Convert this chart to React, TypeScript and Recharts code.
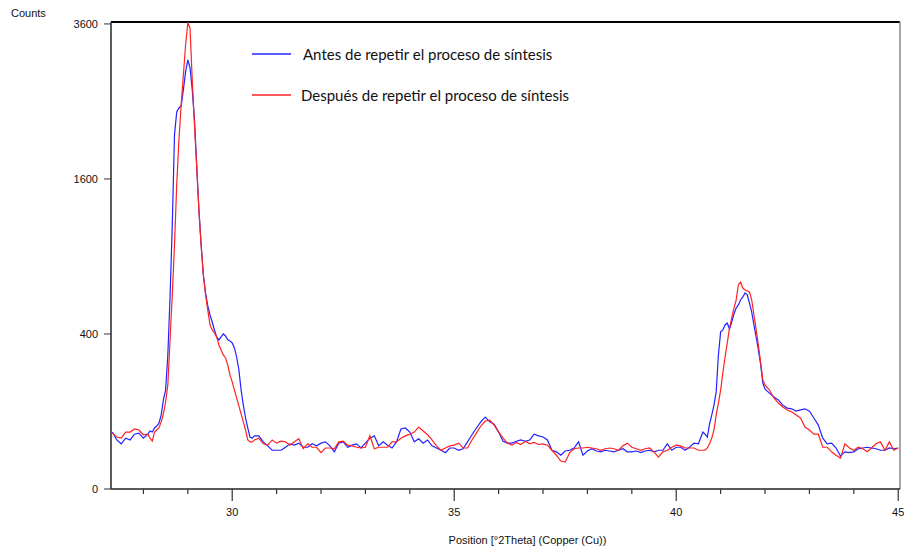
import React from 'react';
import { LineChart, Line, XAxis, YAxis, Legend, Label, ReferenceLine } from 'recharts';

const twoTheta = [
  27.3, 27.4, 27.5, 27.6, 27.7, 27.8, 27.9, 28.0, 28.1,
  28.15, 28.2, 28.25, 28.3, 28.35, 28.4, 28.45, 28.5, 28.55, 28.6, 28.65, 28.7, 28.75, 28.8, 28.85, 28.9, 28.95,
  29.0, 29.05, 29.1, 29.15, 29.2, 29.25, 29.3, 29.35, 29.4, 29.45, 29.5, 29.55, 29.6, 29.65, 29.7, 29.75, 29.8, 29.85, 29.9, 29.95,
  30.0, 30.05, 30.1, 30.15, 30.2, 30.25, 30.3, 30.35, 30.4, 30.45, 30.5,
  30.6, 30.7, 30.8, 30.9, 31.0, 31.1, 31.2, 31.3, 31.4, 31.5,
  31.6, 31.7, 31.8, 31.9, 32.0, 32.1, 32.2, 32.3, 32.4, 32.5,
  32.6, 32.7, 32.8, 32.9, 33.0, 33.1, 33.2, 33.3, 33.4, 33.5,
  33.6, 33.7, 33.8, 33.9, 34.0, 34.1, 34.2, 34.3, 34.4, 34.5,
  34.6, 34.7, 34.8, 34.9, 35.0, 35.1, 35.2, 35.3, 35.4, 35.5,
  35.6, 35.7, 35.8, 35.9, 36.0, 36.1, 36.2, 36.3, 36.4, 36.5,
  36.6, 36.7, 36.8, 36.9, 37.0, 37.1, 37.2, 37.3, 37.4, 37.5,
  37.6, 37.7, 37.8, 37.9, 38.0, 38.1, 38.2, 38.3, 38.4, 38.5,
  38.6, 38.7, 38.8, 38.9, 39.0, 39.1, 39.2, 39.3, 39.4, 39.5,
  39.6, 39.7, 39.8, 39.9, 40.0, 40.1, 40.2, 40.3, 40.4, 40.5,
  40.6,
  40.65, 40.7, 40.75, 40.8, 40.85, 40.9, 40.95, 41.0, 41.05, 41.1,
  41.15, 41.2, 41.25, 41.3, 41.35, 41.4, 41.45, 41.5, 41.55, 41.6,
  41.65, 41.7, 41.75, 41.8, 41.85, 41.9, 41.95,
  42.0, 42.1, 42.2, 42.3, 42.4, 42.5, 42.6, 42.7, 42.8, 42.9,
  43.0, 43.1, 43.2, 43.3, 43.4, 43.5, 43.6, 43.7, 43.8, 43.9,
  44.0, 44.1, 44.2, 44.3, 44.4, 44.5, 44.6, 44.7, 44.8, 44.9,
  45.0,
];

const antes = [
  54, 40, 34, 43, 40, 50, 52, 43, 50,
  56, 54, 62, 66, 72, 91, 132, 163, 299, 614, 1160, 2087, 2367, 2417, 2442, 2651, 2895,
  3064, 2951, 2651, 2267, 1748, 1296, 991, 762, 640, 558, 504, 464, 421, 385, 370, 385, 400, 390, 370, 365,
  355, 331, 290, 236, 163, 117, 84, 62, 45, 43, 47,
  47, 37, 31, 25, 25, 25, 29, 34, 32, 35,
  29, 29, 34, 31, 35, 37, 31, 23, 35, 37,
  29, 32, 34, 28, 35, 43, 47, 31, 37, 32,
  28, 37, 60, 62, 54, 37, 42, 35, 40, 31,
  28, 25, 22, 28, 28, 25, 27, 37, 49, 62,
  75, 86, 75, 70, 54, 38, 35, 35, 38, 40,
  38, 40, 50, 47, 45, 40, 25, 23, 19, 24,
  25, 28, 37, 19, 24, 27, 24, 23, 25, 24,
  23, 25, 27, 23, 23, 24, 22, 24, 25, 23,
  25, 25, 34, 25, 29, 29, 25, 29, 35, 34,
  54,
  50, 45, 70, 91, 117, 157, 299, 411, 421, 448,
  459, 426, 464, 510, 545, 564, 595, 614, 640, 627,
  576, 521, 448, 385, 322, 260, 187,
  166, 153, 141, 132, 117, 109, 107, 101, 104, 107,
  101, 84, 68, 43, 34, 35, 28, 18, 23, 22,
  23, 27, 28, 29, 28, 27, 25, 25, 28, 27,
  28,
];

const despues = [
  52, 45, 43, 54, 54, 60, 58, 49, 50,
  43, 38, 54, 58, 62, 75, 94, 126, 180, 370, 627, 991, 1539, 2028, 2455, 2854, 3282,
  3615, 3538, 2785, 2206, 1726, 1296, 991, 762, 627, 533, 448, 421, 405, 385, 345, 322, 299, 286, 256, 216,
  191, 163, 138, 115, 94, 75, 58, 40, 37, 37, 40,
  43, 34, 32, 40, 35, 38, 37, 32, 37, 42,
  27, 34, 29, 29, 22, 28, 28, 27, 37, 38,
  32, 31, 29, 28, 29, 47, 27, 29, 29, 29,
  37, 37, 43, 47, 50, 54, 64, 56, 49, 40,
  31, 25, 28, 31, 32, 35, 28, 28, 40, 52,
  66, 77, 79, 68, 54, 43, 35, 32, 36, 33,
  38, 34, 36, 33, 34, 32, 25, 19, 13, 12,
  22, 27, 28, 28, 29, 28, 27, 25, 27, 28,
  27, 25, 31, 35, 29, 27, 25, 27, 28, 23,
  17, 23, 25, 29, 32, 31, 28, 28, 28, 25,
  25,
  25, 28, 34, 43, 58, 91, 123, 163, 224, 290,
  355, 431, 487, 545, 595, 693, 713, 672, 659, 653,
  646, 595, 504, 421, 345, 268, 198,
  180, 163, 138, 123, 112, 104, 99, 91, 84, 64,
  58, 50, 50, 29, 29, 23, 19, 16, 34, 28,
  25, 29, 27, 23, 28, 34, 37, 25, 37, 25,
  28,
];

const xTicks = [28, 29, 30, 31, 32, 33, 34, 35, 36, 37, 38, 39, 40, 41, 42, 43, 44, 45];
const yTicks = [0, 400, 1600, 3600];
const seriesNames = [
  'Antes de repetir el proceso de síntesis',
  'Después de repetir el proceso de síntesis',
];
const seriesColors = ['#2222ff', '#ff2222'];
const xTitle = 'Position [°2Theta] (Copper (Cu))';
const yTitle = 'Counts';
const xDomain: [number, number] = [27.27, 45.04];
const yDomain: [number, number] = [0, 3630];

const data = twoTheta.map((t, i) => ({ t, antes: antes[i], despues: despues[i] }));

const AXIS_FONT = '"Liberation Sans", Arial, sans-serif';

const XTick = (props: any) => {
  const { x, y, payload } = props;
  const major = payload.value % 5 === 0;
  return (
    <g>
      <line x1={x} x2={x} y1={y} y2={y + (major ? 12 : 5)} stroke="#333" strokeWidth={1.2} />
      {major && (
        <text x={x} y={y + 27} textAnchor="middle" fontSize={11} fill="#111" fontFamily={AXIS_FONT}>
          {payload.value}
        </text>
      )}
    </g>
  );
};

const LegendContent = (props: any) => {
  const { payload } = props;
  const items = (payload || []).filter((p: any) => seriesNames.indexOf(p.value) >= 0);
  return (
    <div style={{ fontFamily: 'Lato, "Open Sans", sans-serif', fontSize: 15, color: '#111' }}>
      {items.map((p: any, i: number) => {
        const idx = seriesNames.indexOf(p.value);
        return (
          <div
            key={i}
            style={{ display: 'flex', alignItems: 'center', height: 20, marginBottom: i === 0 ? 21 : 0, whiteSpace: 'nowrap' }}
          >
            <svg width={39} height={4} style={{ marginRight: idx === 0 ? 12 : 10, display: 'block' }}>
              <line x1={0} x2={39} y1={2} y2={2} stroke={seriesColors[idx]} strokeWidth={1.4} />
            </svg>
            <span>{p.value}</span>
          </div>
        );
      })}
    </div>
  );
};

export default function App() {
  return (
    <div style={{ position: 'absolute', left: 0, top: 0, background: '#fff' }}>
      <LineChart width={904} height={548} data={data} margin={{ top: 22, right: 4, bottom: 0, left: 51 }}>
        <XAxis
          dataKey="t"
          type="number"
          domain={xDomain}
          allowDataOverflow
          ticks={xTicks}
          interval={0}
          tick={<XTick />}
          tickLine={false}
          tickSize={0}
          tickMargin={0}
          height={59}
          axisLine={{ stroke: '#222', strokeWidth: 1.6 }}
        >
          <Label
            content={(p: any) => {
              const vb = p.viewBox || {};
              return (
                <text x={vb.x + vb.width / 2 + 22} y={544} textAnchor="middle" fontSize={11} fill="#111" fontFamily={AXIS_FONT}>
                  {xTitle}
                </text>
              );
            }}
          />
        </XAxis>
        <YAxis
          type="number"
          scale="sqrt"
          domain={yDomain}
          allowDataOverflow
          ticks={yTicks}
          interval={0}
          width={60}
          tickSize={7}
          tickMargin={6}
          tickLine={{ stroke: '#333' }}
          axisLine={{ stroke: '#333', strokeWidth: 1.6 }}
          tick={{ fontSize: 11, fill: '#111', fontFamily: AXIS_FONT }}
        >
          <Label
            content={(p: any) => {
              const vb = p.viewBox || {};
              return (
                <text x={vb.x - 40} y={17} textAnchor="start" fontSize={11} fill="#111" fontFamily={AXIS_FONT}>
                  {yTitle}
                </text>
              );
            }}
          />
        </YAxis>
        <ReferenceLine y={yDomain[1]} stroke="#000" strokeWidth={2} ifOverflow="extendDomain" />
        <ReferenceLine x={xDomain[1]} stroke="#888" strokeWidth={1.5} ifOverflow="extendDomain" />
        <Legend
          layout="vertical"
          align="center"
          verticalAlign="middle"
          content={<LegendContent />}
          wrapperStyle={{ left: 252, top: 44, width: 420 }}
        />
        <Line
          type="linear"
          dataKey="antes"
          name={seriesNames[0]}
          stroke={seriesColors[0]}
          strokeWidth={1.2}
          dot={false}
          isAnimationActive={false}
        />
        <Line
          type="linear"
          dataKey="despues"
          name={seriesNames[1]}
          stroke={seriesColors[1]}
          strokeWidth={1.2}
          dot={false}
          isAnimationActive={false}
        />
      </LineChart>
    </div>
  );
}
